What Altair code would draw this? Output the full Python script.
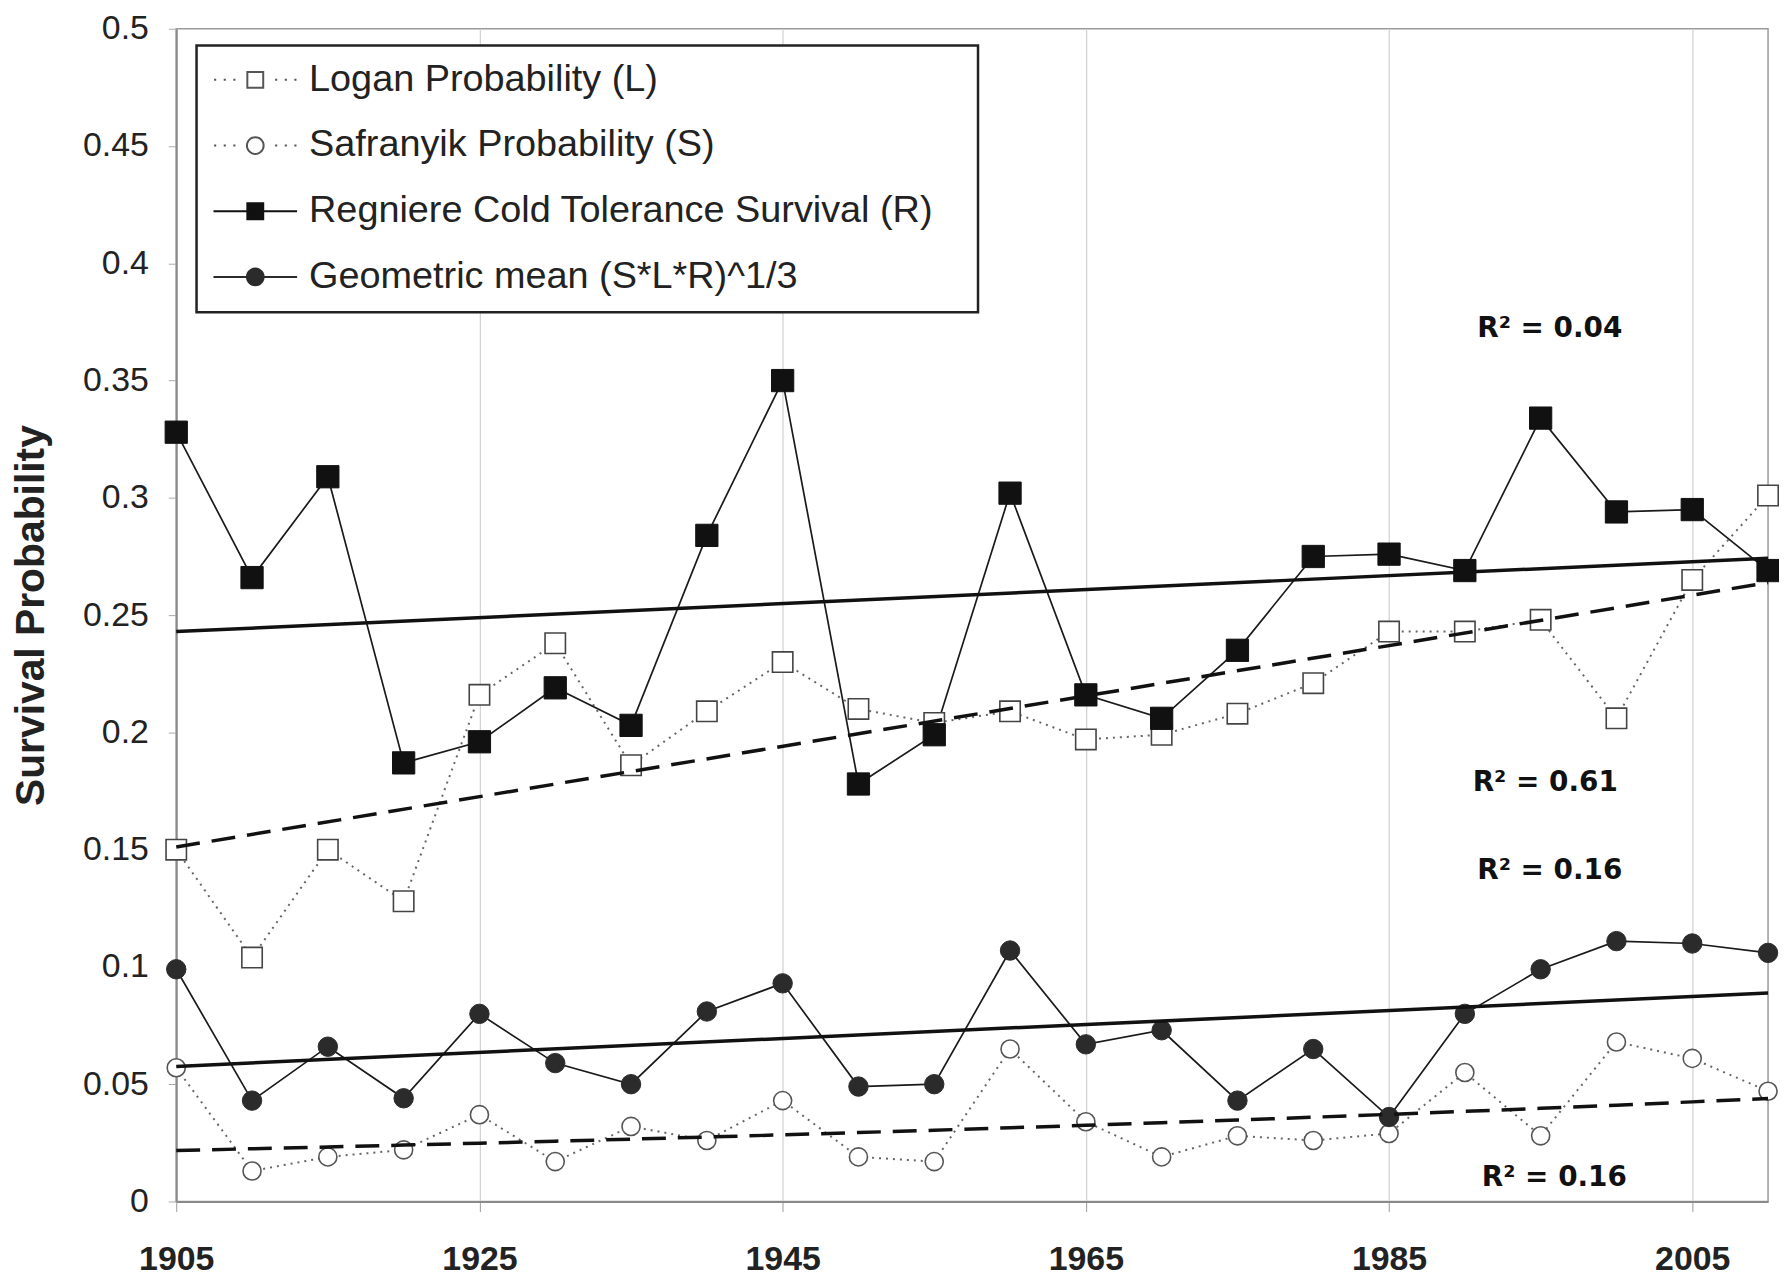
import math
import altair as alt
import pandas as pd

# ---------------- data ----------------
years = [1905, 1910, 1915, 1920, 1925, 1930, 1935, 1940, 1945, 1950, 1955,
         1960, 1965, 1970, 1975, 1980, 1985, 1990, 1995, 2000, 2005, 2010]

logan = [0.150, 0.104, 0.150, 0.128, 0.216, 0.238, 0.186, 0.209, 0.230, 0.210, 0.204,
         0.209, 0.197, 0.199, 0.208, 0.221, 0.243, 0.243, 0.248, 0.206, 0.265, 0.301]
safranyik = [0.057, 0.013, 0.019, 0.022, 0.037, 0.017, 0.032, 0.026, 0.043, 0.019, 0.017,
             0.065, 0.034, 0.019, 0.028, 0.026, 0.029, 0.055, 0.028, 0.068, 0.061, 0.047]
regniere = [0.328, 0.266, 0.309, 0.187, 0.196, 0.219, 0.203, 0.284, 0.350, 0.178, 0.199,
            0.302, 0.216, 0.206, 0.235, 0.275, 0.276, 0.269, 0.334, 0.294, 0.295, 0.269]
geomean = [0.099, 0.043, 0.066, 0.044, 0.080, 0.059, 0.050, 0.081, 0.093, 0.049, 0.050,
           0.107, 0.067, 0.073, 0.043, 0.065, 0.036, 0.080, 0.099, 0.111, 0.110, 0.106]

series_names = ["Logan Probability (L)", "Safranyik Probability (S)",
                "Regniere Cold Tolerance Survival (R)", "Geometric mean (S*L*R)^1/3"]

x_ticks = [1905, 1925, 1945, 1965, 1985, 2005]
y_ticks = [0, 0.05, 0.1, 0.15, 0.2, 0.25, 0.3, 0.35, 0.4, 0.45, 0.5]

r2_labels = ["R\u00b2 = 0.04", "R\u00b2 = 0.61", "R\u00b2 = 0.16", "R\u00b2 = 0.16"]
r2_year = [1995.6, 1995.3, 1995.6, 1995.9]
r2_value = [0.372, 0.1785, 0.141, 0.010]

# ---------------- tables ----------------
rows = []
for name, vals in zip(series_names, [logan, safranyik, regniere, geomean]):
    for yr, v in zip(years, vals):
        rows.append({"year": yr, "value": v, "series": name})
df = pd.DataFrame(rows)
r2_df = pd.DataFrame({"year": r2_year, "value": r2_value, "label": r2_labels})

L, S, R, G = series_names
FONT = "Liberation Sans"

x_axis = alt.Axis(values=x_ticks, format="d", title=None, labelFont=FONT, labelFontSize=34,
                  labelFontWeight="bold", labelColor="#222", labelFlush=False,
                  tickSize=10, tickColor="#999", labelPadding=31,
                  domainColor="#8a8a8a", domainWidth=2, grid=True,
                  gridColor="#d4d4d4", gridWidth=1.3)
y_axis = alt.Axis(values=y_ticks, format="~g", title="Survival Probability",
                  labelFont=FONT, labelFontSize=34, labelColor="#222",
                  tickSize=8, tickColor="#aaa", labelPadding=20,
                  domainColor="#8a8a8a", domainWidth=2, grid=False,
                  titleFont=FONT, titleFontSize=41, titleFontWeight="bold",
                  titleColor="#222", titleX=-145, titleY=589, titleAngle=270,
                  titleAlign="center", titleBaseline="middle")

xs = alt.Scale(domain=[1905, 2010], nice=False, zero=False)
ys = alt.Scale(domain=[0, 0.5], nice=False)
X = alt.X("year:Q", scale=xs, axis=x_axis)
Y = alt.Y("value:Q", scale=ys, axis=y_axis)

base = alt.Chart(df)


def only(names):
    return alt.FieldOneOfPredicate(field="series", oneOf=names)


line_dotted = base.transform_filter(only([L, S])).mark_line(
    color="#666", strokeWidth=2, strokeDash=[2, 5]).encode(X, Y, detail="series:N")
line_solid = base.transform_filter(only([R, G])).mark_line(
    color="#1a1a1a", strokeWidth=1.7).encode(X, Y, detail="series:N")

pts_L = base.transform_filter(only([L])).mark_point(
    shape="square", filled=True, fill="white", stroke="#444", strokeWidth=1.6,
    size=420, opacity=1).encode(X, Y)
pts_S = base.transform_filter(only([S])).mark_point(
    shape="circle", filled=True, fill="white", stroke="#555", strokeWidth=1.6,
    size=330, opacity=1).encode(X, Y)
pts_R = base.transform_filter(only([R])).mark_point(
    shape="square", filled=True, fill="#111", stroke="#111", strokeWidth=1,
    size=500, opacity=1).encode(X, Y)
pts_G = base.transform_filter(only([G])).mark_point(
    shape="circle", filled=True, fill="#2b2b2b", stroke="#2b2b2b", strokeWidth=1,
    size=380, opacity=1).encode(X, Y)

trend_solid = base.transform_filter(only([R, G])).transform_regression(
    "year", "value", groupby=["series"], method="linear").mark_line(
    color="#111", strokeWidth=3.5).encode(X, Y, detail="series:N")
trend_L = base.transform_filter(only([L])).transform_regression(
    "year", "value", method="linear").mark_line(
    color="#111", strokeWidth=3.5, strokeDash=[24, 12]).encode(X, Y)
# exponential trend (least squares on ln(value)), evaluated at the data years
trend_S = base.transform_filter(only([S])).transform_calculate(
    ly="log(datum.value)"
).transform_joinaggregate(
    mx="mean(year)", mly="mean(ly)"
).transform_calculate(
    sxy="(datum.year - datum.mx) * (datum.ly - datum.mly)",
    sxx="(datum.year - datum.mx) * (datum.year - datum.mx)"
).transform_joinaggregate(
    Sxy="sum(sxy)", Sxx="sum(sxx)"
).transform_calculate(
    fit="exp(datum.mly + datum.Sxy / datum.Sxx * (datum.year - datum.mx))"
).mark_line(
    color="#111", strokeWidth=3.5, strokeDash=[24, 12]
).encode(X, alt.Y("fit:Q", scale=ys, axis=y_axis))

r2_text = alt.Chart(r2_df).mark_text(
    font="DejaVu Sans", fontWeight="bold", fontSize=28, color="#111",
    align="center", baseline="middle").encode(X, Y, text="label:N")

# ---------------- legend symbols (line + marker glyphs) ----------------
def dots():
    segs = ""
    for c in [-0.96, -0.73, -0.5, 0.5, 0.73, 0.96]:
        segs += "M%.3f,0H%.3f" % (c - 0.025, c + 0.025)
    return segs


def square(h):
    return "M%.3f,%.3fH%.3fV%.3fH%.3fZ" % (-h, -h, h, h, -h)


def circle(r, n=28):
    pts = []
    for i in range(n):
        a = 2 * math.pi * i / n
        pts.append("%.3f,%.3f" % (r * math.cos(a), r * math.sin(a)))
    return "M" + "L".join(pts) + "Z"


sym_paths = [dots() + square(0.19), dots() + circle(0.2),
             "M-1,0H1" + square(0.19), "M-1,0H1" + circle(0.2)]
sym_fills = ["white", "white", "#111", "#2b2b2b"]
sym_strokes = ["#555", "#555", "#111", "#2b2b2b"]

label_expr = ("datum.value == '" + R + "' ? datum.label + '\u2800' : datum.label")
leg = alt.Legend(title=None, orient="none", legendX=20.4, legendY=16.8, direction="vertical",
                 symbolSize=7056, symbolStrokeWidth=2,
                 symbolOpacity=1, labelFont=FONT, labelFontSize=38, labelColor="#222",
                 labelLimit=2000, labelOffset=11, rowPadding=27, clipHeight=37,
                 padding=16, strokeColor="#222", fillColor="white", labelExpr=label_expr)

legend_layer = base.transform_filter("false").mark_point(
    filled=True, strokeWidth=2, opacity=1, size=7056).encode(
    X, Y,
    shape=alt.Shape("series:N", scale=alt.Scale(domain=series_names, range=sym_paths), legend=leg),
    fill=alt.Fill("series:N", scale=alt.Scale(domain=series_names, range=sym_fills), legend=leg),
    stroke=alt.Stroke("series:N", scale=alt.Scale(domain=series_names, range=sym_strokes), legend=leg),
)

chart = alt.layer(
    line_dotted, line_solid, pts_L, pts_S, pts_R, pts_G,
    trend_solid, trend_L, trend_S, r2_text, legend_layer
).properties(
    width=1599, height=1178,
    padding={"left": 169, "top": 18, "right": 11, "bottom": 72},
    autosize=alt.AutoSizeParams(type="none"),
    background="white",
).configure_view(
    stroke="#9a9a9a", strokeWidth=1.5
).configure_legend(
    strokeWidth=2.5
)

chart.save("out.html", embed_options={"renderer": "svg", "actions": False})
